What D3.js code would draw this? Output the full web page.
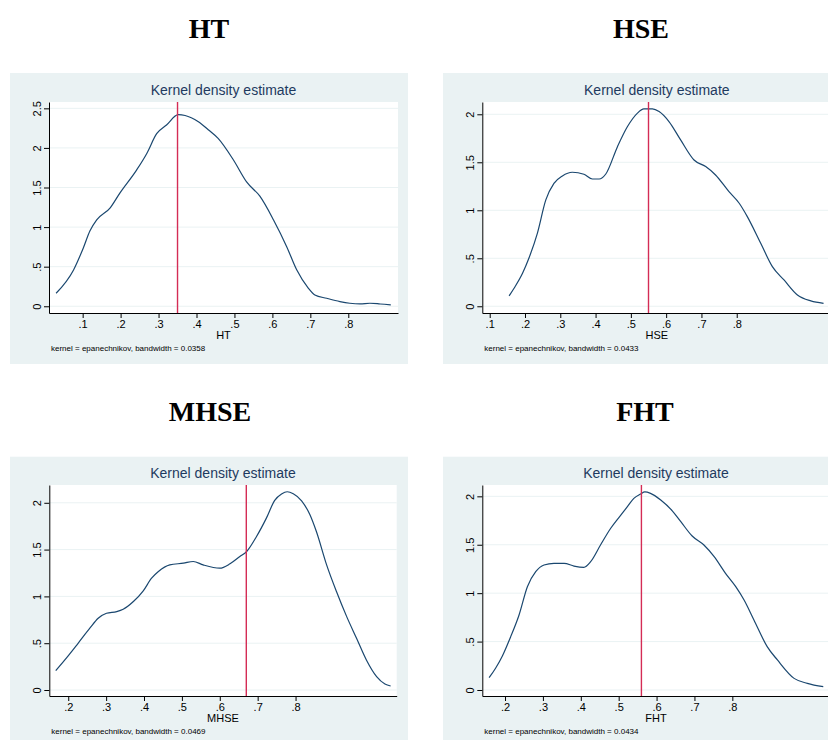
<!DOCTYPE html>
<html>
<head>
<meta charset="utf-8">
<script src="https://cdn.jsdelivr.net/npm/d3@7"></script>
<style>
  body { margin: 0; background: #fff; }
  svg { display: block; }
</style>
</head>
<body>
<script>
// Chart data
var panelNames = ["HT", "HSE", "MHSE", "FHT"];
var bandwidths = ["0.0358", "0.0433", "0.0469", "0.0434"];
var markLines = [0.35, 0.55, 0.67, 0.56];

var htX = [0.030, 0.076, 0.102, 0.119, 0.137, 0.172, 0.198, 0.242, 0.269, 0.295, 0.321, 0.352, 0.370, 0.405, 0.431, 0.457, 0.497, 0.532, 0.567, 0.603, 0.638, 0.664, 0.695, 0.712, 0.743, 0.778, 0.804, 0.831, 0.857, 0.884, 0.912];
var htY = [0.164, 0.459, 0.74, 0.95, 1.09, 1.24, 1.43, 1.72, 1.93, 2.18, 2.29, 2.42, 2.41, 2.33, 2.23, 2.12, 1.85, 1.57, 1.39, 1.09, 0.75, 0.46, 0.227, 0.143, 0.101, 0.059, 0.038, 0.029, 0.038, 0.029, 0.017];

var hseX = [0.155, 0.169, 0.193, 0.211, 0.235, 0.259, 0.282, 0.306, 0.334, 0.367, 0.391, 0.410, 0.429, 0.462, 0.490, 0.518, 0.537, 0.561, 0.580, 0.608, 0.641, 0.679, 0.712, 0.740, 0.778, 0.807, 0.830, 0.868, 0.901, 0.934, 0.972, 1.010, 1.046];
var hseY = [0.108, 0.188, 0.344, 0.50, 0.76, 1.108, 1.28, 1.358, 1.396, 1.375, 1.326, 1.326, 1.378, 1.663, 1.87, 2.01, 2.056, 2.056, 2.028, 1.924, 1.733, 1.524, 1.455, 1.368, 1.194, 1.073, 0.934, 0.656, 0.413, 0.274, 0.118, 0.056, 0.031];

var mhseX = [0.167, 0.196, 0.226, 0.257, 0.279, 0.301, 0.328, 0.345, 0.372, 0.398, 0.420, 0.438, 0.468, 0.504, 0.530, 0.556, 0.600, 0.627, 0.653, 0.671, 0.697, 0.723, 0.745, 0.763, 0.778, 0.794, 0.816, 0.838, 0.855, 0.882, 0.908, 0.935, 0.961, 0.987, 1.014, 1.036, 1.051];
var mhseY = [0.207, 0.346, 0.499, 0.66, 0.767, 0.820, 0.838, 0.863, 0.945, 1.059, 1.194, 1.266, 1.337, 1.355, 1.373, 1.337, 1.301, 1.348, 1.426, 1.48, 1.64, 1.836, 2.025, 2.093, 2.118, 2.096, 2.021, 1.872, 1.693, 1.337, 1.052, 0.784, 0.553, 0.321, 0.143, 0.064, 0.043];

var fhtX = [0.158, 0.175, 0.193, 0.215, 0.237, 0.259, 0.281, 0.303, 0.329, 0.356, 0.382, 0.408, 0.426, 0.452, 0.479, 0.501, 0.523, 0.540, 0.558, 0.569, 0.584, 0.611, 0.642, 0.664, 0.694, 0.725, 0.752, 0.782, 0.809, 0.831, 0.857, 0.892, 0.919, 0.963, 0.998, 1.040];
var fhtY = [0.127, 0.224, 0.351, 0.551, 0.775, 1.067, 1.222, 1.291, 1.308, 1.308, 1.28, 1.267, 1.325, 1.497, 1.67, 1.783, 1.893, 1.979, 2.024, 2.045, 2.031, 1.962, 1.848, 1.738, 1.59, 1.497, 1.377, 1.205, 1.067, 0.929, 0.723, 0.448, 0.31, 0.120, 0.069, 0.034];

var xTicksHT = [0.1, 0.2, 0.3, 0.4, 0.5, 0.6, 0.7, 0.8];
var xTicksHSE = [0.1, 0.2, 0.3, 0.4, 0.5, 0.6, 0.7, 0.8];
var xTicksLow = [0.2, 0.3, 0.4, 0.5, 0.6, 0.7, 0.8];
var yTicksHT = [0, 0.5, 1, 1.5, 2, 2.5];
var yTicksOther = [0, 0.5, 1, 1.5, 2];

// layout of each panel (bg box, plot box, axis domains)
var panels = [
  { name: panelNames[0], xs: htX, ys: htY, mark: markLines[0], bw: bandwidths[0], xt: xTicksHT, yt: yTicksHT,
    head: [209, 38], bg: [10, 73, 398, 291], plot: [49, 102, 349, 211], xd: [0.0113, 0.931], yd: [-0.085, 2.58] },
  { name: panelNames[1], xs: hseX, ys: hseY, mark: markLines[1], bw: bandwidths[1], xt: xTicksHSE, yt: yTicksOther,
    head: [641, 38], bg: [443, 73, 398, 291], plot: [482.3, 102, 349, 211], xd: [0.079, 1.068], yd: [-0.07, 2.128] },
  { name: panelNames[2], xs: mhseX, ys: mhseY, mark: markLines[2], bw: bandwidths[2], xt: xTicksLow, yt: yTicksOther,
    head: [210, 421], bg: [10, 456.7, 398, 290], plot: [49.3, 485, 347.4, 211], xd: [0.150, 1.067], yd: [-0.064, 2.19] },
  { name: panelNames[3], xs: fhtX, ys: fhtY, mark: markLines[3], bw: bandwidths[3], xt: xTicksLow, yt: yTicksOther,
    head: [645, 421], bg: [443, 456.7, 398, 290], plot: [482.3, 485, 347.4, 211], xd: [0.140, 1.057], yd: [-0.062, 2.117] }
];

var svgWidth = 828;
var svgHeight = 740;

var svg = d3.select("body")
  .append("svg")
  .attr("width", svgWidth)
  .attr("height", svgHeight);

var fmt = function(d) {
  // Stata style labels: .5, 1, 1.5, .1 ...
  var s = d3.format("~g")(d);
  return s.replace(/^0\./, ".");
};

panels.forEach(function(p) {
  // heading above the panel
  svg.append("text")
    .attr("x", p.head[0])
    .attr("y", p.head[1])
    .attr("text-anchor", "middle")
    .attr("font-family", "'Liberation Serif', 'Times New Roman', serif")
    .attr("font-weight", "bold")
    .attr("font-size", "28px")
    .attr("fill", "#000")
    .text(p.name);

  // light graph region
  svg.append("rect")
    .attr("x", p.bg[0])
    .attr("y", p.bg[1])
    .attr("width", p.bg[2])
    .attr("height", p.bg[3])
    .attr("fill", "#eaf2f3");

  var pl = p.plot;
  var g = svg.append("g")
    .attr("transform", `translate(${pl[0]}, ${pl[1]})`);

  var x = d3.scaleLinear().domain(p.xd).range([0, pl[2]]);
  var y = d3.scaleLinear().domain(p.yd).range([pl[3], 0]);

  g.append("rect")
    .attr("width", pl[2])
    .attr("height", pl[3])
    .attr("fill", "#fff");

  // grid lines
  g.selectAll(".grid")
    .data(p.yt)
    .enter()
    .append("line")
    .attr("x1", 0)
    .attr("x2", pl[2])
    .attr("y1", d => y(d))
    .attr("y2", d => y(d))
    .attr("stroke", "#eaf2f3")
    .attr("stroke-width", 1);

  // title
  g.append("text")
    .attr("x", pl[2] / 2)
    .attr("y", -7)
    .attr("text-anchor", "middle")
    .attr("font-family", "'Liberation Sans', Arial, sans-serif")
    .attr("font-size", "14px")
    .attr("fill", "#1e3a5f")
    .text("Kernel density estimate");

  // density curve
  var pts = p.xs.map((v, i) => [v, p.ys[i]]);
  var line = d3.line()
    .x(d => x(d[0]))
    .y(d => y(d[1]))
    .curve(d3.curveMonotoneX);

  g.append("path")
    .datum(pts)
    .attr("d", line)
    .attr("fill", "none")
    .attr("stroke", "#1a476f")
    .attr("stroke-width", 1.2);

  // vertical marker
  g.append("line")
    .attr("x1", x(p.mark))
    .attr("x2", x(p.mark))
    .attr("y1", 0)
    .attr("y2", pl[3])
    .attr("stroke", "#d42c55")
    .attr("stroke-width", 1.4);

  // axes
  var bottomAxis = d3.axisBottom(x).tickValues(p.xt).tickFormat(fmt).tickSize(5).tickSizeOuter(0);
  var leftAxis = d3.axisLeft(y).tickValues(p.yt).tickFormat(fmt).tickSize(5).tickSizeOuter(0);

  var xAxis = g.append("g")
    .attr("transform", `translate(0, ${pl[3]})`)
    .call(bottomAxis);
  xAxis.select(".domain").attr("stroke", "#000");
  xAxis.selectAll("text")
    .attr("font-family", "'Liberation Sans', Arial, sans-serif")
    .attr("font-size", "11px")
    .attr("fill", "#000")
    .attr("dy", null)
    .attr("y", 15);

  var yAxis = g.append("g")
    .call(leftAxis);
  yAxis.select(".domain").attr("stroke", "#000");
  yAxis.selectAll(".tick text")
    .attr("font-family", "'Liberation Sans', Arial, sans-serif")
    .attr("font-size", "11px")
    .attr("fill", "#000")
    .attr("text-anchor", "middle")
    .attr("x", null)
    .attr("dy", null)
    .attr("transform", "translate(-8, 0) rotate(-90)");

  // x axis title
  g.append("text")
    .attr("x", pl[2] / 2)
    .attr("y", pl[3] + 26)
    .attr("text-anchor", "middle")
    .attr("font-family", "'Liberation Sans', Arial, sans-serif")
    .attr("font-size", "11px")
    .attr("fill", "#000")
    .text(p.name);

  // kernel note
  g.append("text")
    .attr("x", 2)
    .attr("y", pl[3] + 38)
    .attr("font-family", "'Liberation Sans', Arial, sans-serif")
    .attr("font-size", "8px")
    .attr("fill", "#000")
    .text("kernel = epanechnikov, bandwidth = " + p.bw);
});
</script>
</body>
</html>
